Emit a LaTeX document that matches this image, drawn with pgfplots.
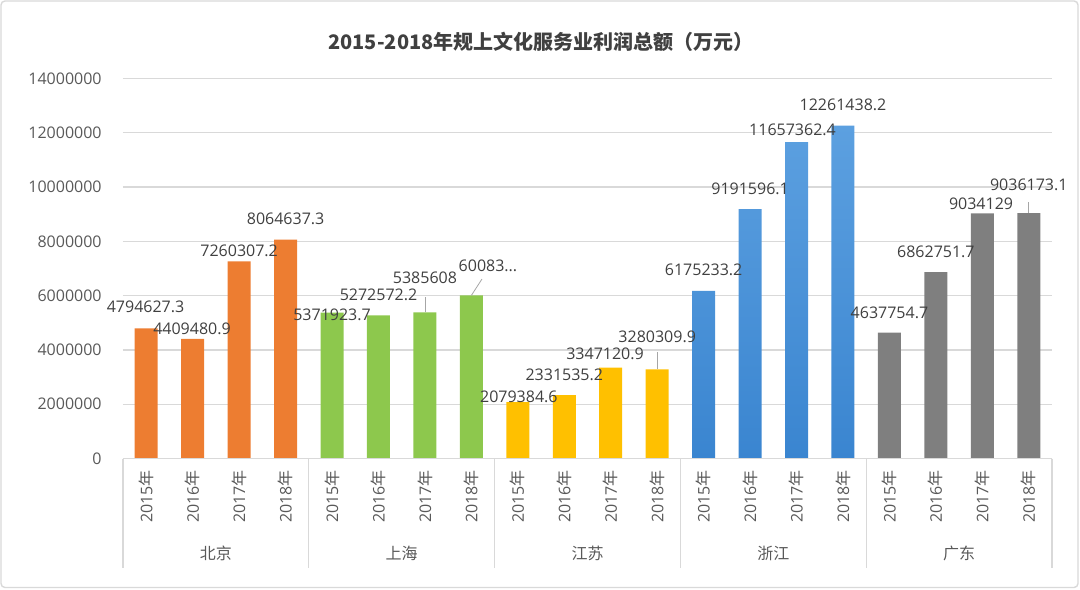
\documentclass[border=0pt]{standalone}
\usepackage{fontspec}
\setmainfont{Open Sans}
\newfontfamily\cjk{Noto Sans CJK SC}
\usepackage{pgfplots}
\pgfplotsset{compat=1.18}

\definecolor{bj}{HTML}{ED7D31}
\definecolor{sh}{HTML}{8DC84D}
\definecolor{js}{HTML}{FFC000}
\definecolor{zjtop}{HTML}{5CA0E0}
\definecolor{zjbot}{HTML}{3A85D0}
\definecolor{gd}{HTML}{7F7F7F}
\definecolor{gridc}{HTML}{D9D9D9}
\definecolor{txt}{HTML}{595959}
\definecolor{lbl}{HTML}{404040}
\newcommand\f{\fontsize{8pt}{10pt}\selectfont}
\newcommand\y[1]{#1{\cjk 年}}

\begin{document}
\begin{tikzpicture}
\useasboundingbox (-61.5pt,-65.25pt) rectangle (478.5pt,229.25pt);
\draw[gridc, line width=0.7pt, rounded corners=2pt] (-61pt,-64.5pt) rectangle (477.5pt,228.75pt);

\begin{axis}[
    at={(0,0)}, anchor=south west,
    width=464.5pt, height=190pt, scale only axis,
    xmin=-0.5, xmax=19.5,
    ymin=0, ymax=14000000,
    clip=false,
    scaled y ticks=false,
    axis line style={draw=none},
    major tick style={draw=none},
    ymajorgrids,
    grid style={gridc, line width=0.6pt},
    ytick={0,2000000,4000000,6000000,8000000,10000000,12000000,14000000},
    yticklabels={0,2000000,4000000,6000000,8000000,10000000,12000000,14000000},
    yticklabel style={anchor=east, inner sep=0pt, text=txt, font=\f},
    yticklabel shift=10.5pt,
    xtick={0,...,19},
    xticklabels={\y{2015},\y{2016},\y{2017},\y{2018},\y{2015},\y{2016},\y{2017},\y{2018},
                 \y{2015},\y{2016},\y{2017},\y{2018},\y{2015},\y{2016},\y{2017},\y{2018},
                 \y{2015},\y{2016},\y{2017},\y{2018}},
    xticklabel style={rotate=90, anchor=east, inner sep=0pt, text=txt, font=\f},
    xticklabel shift=5.75pt,
    every axis plot/.append style={ybar, bar width=11.5pt, bar shift=0pt, draw=none},
]
% 北京
\addplot[fill=bj] coordinates {(0,4794627.3) (1,4409480.9) (2,7260307.2) (3,8064637.3)};
% 上海
\addplot[fill=sh] coordinates {(4,5371923.7) (5,5272572.2) (6,5385608) (7,6008300)};
% 江苏
\addplot[fill=js] coordinates {(8,2079384.6) (9,2331535.2) (10,3347120.9) (11,3280309.9)};
% 浙江
\addplot[top color=zjtop, bottom color=zjbot] coordinates {(12,6175233.2) (13,9191596.1) (14,11657362.4) (15,12261438.2)};
% 广东
\addplot[fill=gd] coordinates {(16,4637754.7) (17,6862751.7) (18,9034129) (19,9036173.1)};

% category axis lines
\draw[gridc, line width=0.6pt] (axis cs:-0.5,0) -- (axis cs:19.5,0);
\draw[gridc, line width=0.6pt] (axis cs:-0.5,0) -- ++(0pt,-54.5pt);
\draw[gridc, line width=0.6pt] (axis cs:3.5,0) -- ++(0pt,-54.5pt);
\draw[gridc, line width=0.6pt] (axis cs:7.5,0) -- ++(0pt,-54.5pt);
\draw[gridc, line width=0.6pt] (axis cs:11.5,0) -- ++(0pt,-54.5pt);
\draw[gridc, line width=0.6pt] (axis cs:15.5,0) -- ++(0pt,-54.5pt);
\draw[gridc, line width=0.6pt] (axis cs:19.5,0) -- ++(0pt,-54.5pt);
\node[font=\f\cjk, text=txt, yshift=-47.25pt] at (axis cs:1.5,0) {北京};
\node[font=\f\cjk, text=txt, yshift=-47.25pt] at (axis cs:5.5,0) {上海};
\node[font=\f\cjk, text=txt, yshift=-47.25pt] at (axis cs:9.5,0) {江苏};
\node[font=\f\cjk, text=txt, yshift=-47.25pt] at (axis cs:13.5,0) {浙江};
\node[font=\f\cjk, text=txt, yshift=-47.25pt] at (axis cs:17.5,0) {广东};

% data labels
\tikzset{lab/.style={font=\f, text=lbl, inner sep=0pt}}
\node[lab, xshift=-0.35pt, yshift=10.7pt] at (axis cs:0,4794627.3) {4794627.3};
\node[lab, xshift=-0.35pt, yshift=4.9pt] at (axis cs:1,4409480.9) {4409480.9};
\node[lab, yshift=5.2pt] at (axis cs:2,7260307.2) {7260307.2};
\node[lab, yshift=10.3pt] at (axis cs:3,8064637.3) {8064637.3};
\node[lab, yshift=-1.15pt] at (axis cs:4,5371923.7) {5371923.7};
\node[lab, yshift=10.2pt] at (axis cs:5,5272572.2) {5272572.2};
\node[lab, yshift=17.15pt] at (axis cs:6,5385608) {5385608};
\node[lab, xshift=8.3pt, yshift=14.7pt] at (axis cs:7,6008300) {60083...};
\node[lab, xshift=0.5pt, yshift=2.55pt] at (axis cs:8,2079384.6) {2079384.6};
\node[lab, yshift=10.1pt] at (axis cs:9,2331535.2) {2331535.2};
\node[lab, xshift=-2.85pt, yshift=6.8pt] at (axis cs:10,3347120.9) {3347120.9};
\node[lab, yshift=16.25pt] at (axis cs:11,3280309.9) {3280309.9};
\node[lab, yshift=10.45pt] at (axis cs:12,6175233.2) {6175233.2};
\node[lab, yshift=10pt] at (axis cs:13,9191596.1) {9191596.1};
\node[lab, xshift=-2pt, yshift=6.05pt] at (axis cs:14,11657362.4) {11657362.4};
\node[lab, yshift=10.35pt] at (axis cs:15,12261438.2) {12261438.2};
\node[lab, yshift=9.8pt] at (axis cs:16,4637754.7) {4637754.7};
\node[lab, yshift=10.1pt] at (axis cs:17,6862751.7) {6862751.7};
\node[lab, xshift=-0.65pt, yshift=4.65pt] at (axis cs:18,9034129) {9034129};
\node[lab, yshift=14.1pt] at (axis cs:19,9036173.1) {9036173.1};

% leader lines
\draw[gray!70, line width=0.4pt] (axis cs:6,5385608) -- ++(0pt,7.65pt);
\draw[gray!70, line width=0.4pt] (axis cs:7,6008300) -- ++(5.3pt,8.2pt);
\draw[gray!70, line width=0.4pt] (axis cs:11,3280309.9) -- ++(0pt,8.75pt);
\draw[gray!70, line width=0.4pt] (axis cs:19,9036173.1) -- ++(0pt,5.6pt);
\end{axis}

\node[font=\cjk\bfseries\fontsize{10pt}{12pt}\selectfont, text=lbl] at (209pt,208.25pt)
  {2015-2018年规上文化服务业利润总额（万元）};
\end{tikzpicture}
\end{document}
